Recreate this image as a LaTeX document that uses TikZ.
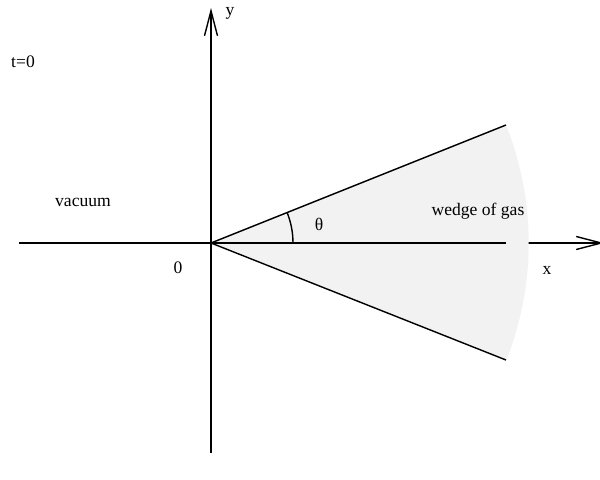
\documentclass[tikz,border=0pt]{standalone}
\usepackage{fontspec}
\setmainfont{Liberation Serif}
\usetikzlibrary{arrows.meta}
\definecolor{gasgray}{RGB}{242,242,242}
\tikzstyle{axis} = [line width=0.8pt, -{Straight Barb[length=0.5cm,width=0.26cm]}]
\tikzstyle{edge} = [line width=0.8pt]
\tikzstyle{bag} = [inner sep=0pt]

\begin{document}
\begin{tikzpicture}[x=0.02cm, y=-0.02cm]
\useasboundingbox (0,0) rectangle (600,480);
%punten
\coordinate (O) at (211,243);
\coordinate (ytop) at (211,8);
\coordinate (ybot) at (211,453);
\coordinate (xl) at (19,243);
\coordinate (xr) at (604,243);
\coordinate (xe) at (506,243);
\coordinate (up) at (506,125);
\coordinate (lo) at (506,360);
%begin assen
\draw[axis] (xl) -- (xr);
\draw[axis] (ybot) -- (ytop);
%end assen
%begin wig
\fill[gasgray] (O) -- (up) arc[start angle=-21.8, end angle=21.8, radius=317.7] -- cycle;
\draw[edge] (O) -- (up);
\draw[edge] (O) -- (lo);
\draw[edge] (O) -- (xe);
\draw[edge] (293,243) arc[start angle=0, end angle=-21.8, radius=82];
%end wig
%begin labels
\node[bag] (ylabel) at (230,13) {y};
\node[bag] (xlabel) at (547,270) {x};
\node[bag] (zero) at (178,268) {0};
\node[bag] (tnul) at (23,62) {t=0};
\node[bag] (vacuum) at (83,202) {vacuum};
\node[bag] (theta) at (319,224) {θ};
\node[bag] (gas) at (478,211) {wedge of gas};
%end labels
\end{tikzpicture}
\end{document}
